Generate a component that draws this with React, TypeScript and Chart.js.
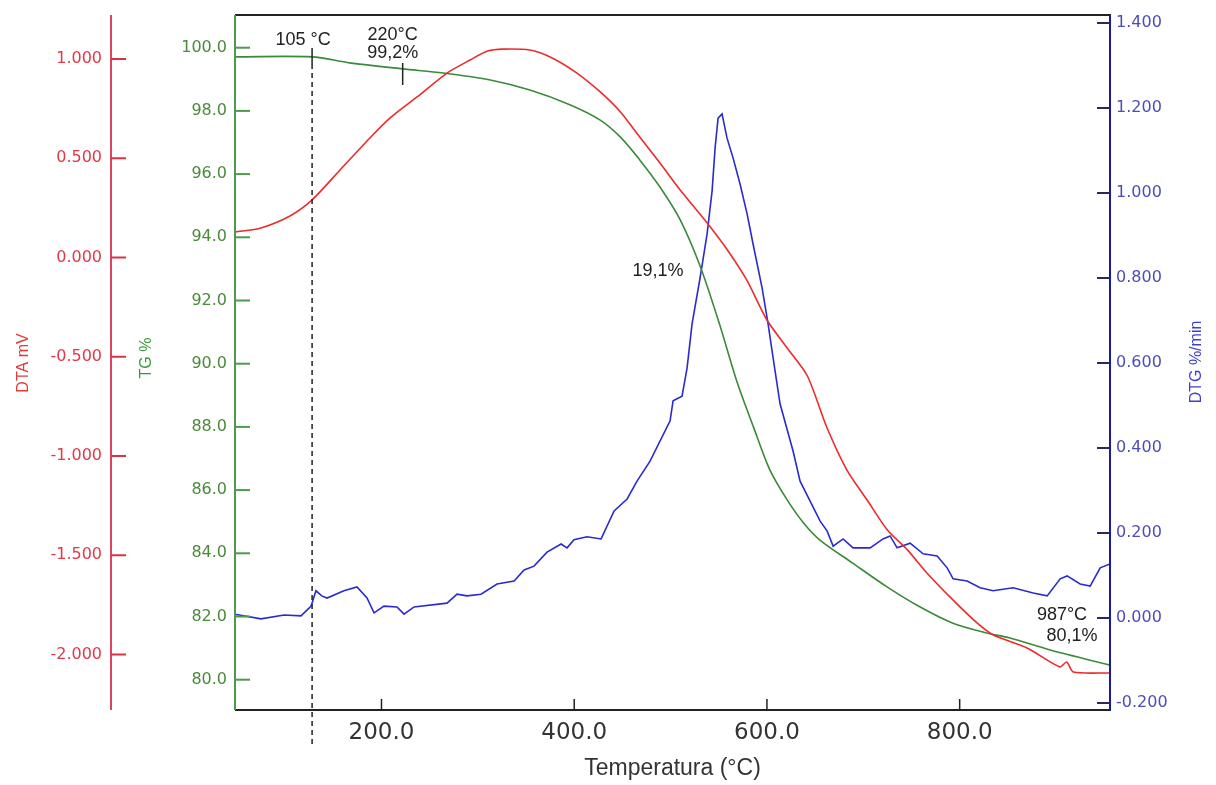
import React, { useEffect, useRef } from "react";
import { Chart, registerables } from "chart.js";

Chart.register(...registerables);

// ---- tick labels ----
const xTicks = [200, 400, 600, 800];
const dtaTicks = [1.0, 0.5, 0.0, -0.5, -1.0, -1.5, -2.0];
const tgTicks = [100, 98, 96, 94, 92, 90, 88, 86, 84, 82, 80];
const dtgTicks = [1.4, 1.2, 1.0, 0.8, 0.6, 0.4, 0.2, 0.0, -0.2];

// ---- TG (%) ----
const tgTemp = [48, 128, 167, 222, 264, 313, 354, 396, 427, 448, 468, 489, 510, 531, 551, 569, 586, 603, 621, 638, 655, 689, 725, 759, 793, 828, 852, 894, 956];
const tgValues = [99.71, 99.71, 99.52, 99.33, 99.2, 98.98, 98.66, 98.19, 97.71, 97.17, 96.45, 95.59, 94.55, 93.06, 91.23, 89.42, 88.0, 86.64, 85.69, 84.96, 84.42, 83.69, 82.93, 82.3, 81.79, 81.48, 81.32, 80.94, 80.46];

// ---- DTA (mV) ----
const dtaTemp = [48, 75, 105, 128, 157, 188, 209, 237, 268, 292, 310, 326, 354, 375, 401, 427, 448, 468, 489, 510, 538, 559, 579, 600, 621, 642, 662, 683, 704, 725, 746, 766, 793, 818, 835, 870, 904, 911, 918, 956];
const dtaValues = [0.128, 0.149, 0.209, 0.29, 0.441, 0.602, 0.703, 0.809, 0.929, 0.995, 1.04, 1.05, 1.045, 1.01, 0.935, 0.834, 0.733, 0.607, 0.476, 0.34, 0.174, 0.038, -0.113, -0.315, -0.456, -0.597, -0.854, -1.071, -1.222, -1.373, -1.474, -1.589, -1.725, -1.841, -1.902, -1.967, -2.063, -2.038, -2.088, -2.093];

// ---- DTG (%/min) ----
const dtgTemp = [48, 75, 99, 116.5, 127, 132, 138, 143.5, 161, 174.6, 185, 192.3, 202.6, 216.1, 223.4, 233.8, 268, 278.4, 288.8, 303.3, 319.9, 337.6, 348, 358.3, 371.8, 386.4, 392.6, 399.8, 413.3, 427.9, 441.4, 454.9, 465.2, 478.7, 499.5, 502.6, 511.9, 517.1, 522.3, 530.6, 537.9, 543.1, 546.2, 549.3, 553.4, 558.6, 564.9, 572.1, 579.4, 585.6, 595, 601.2, 606.4, 613.6, 627.1, 634.4, 644.8, 655.2, 662.4, 668.7, 679, 689.4, 707.1, 720.5, 727.8, 735.1, 748.6, 762.1, 776.6, 787, 793.2, 807.7, 821.2, 834.7, 855.5, 876.3, 890.8, 904.3, 911.5, 925, 935.4, 945.8, 956];
const dtgValues = [0.009, -0.002, 0.007, 0.005, 0.028, 0.064, 0.052, 0.047, 0.064, 0.073, 0.047, 0.012, 0.028, 0.026, 0.009, 0.026, 0.035, 0.056, 0.052, 0.056, 0.08, 0.087, 0.113, 0.122, 0.155, 0.174, 0.165, 0.184, 0.191, 0.186, 0.252, 0.28, 0.322, 0.369, 0.464, 0.511, 0.522, 0.588, 0.692, 0.8, 0.904, 1.005, 1.106, 1.176, 1.186, 1.129, 1.082, 1.021, 0.951, 0.88, 0.776, 0.692, 0.612, 0.504, 0.393, 0.322, 0.275, 0.228, 0.205, 0.169, 0.186, 0.165, 0.165, 0.186, 0.193, 0.165, 0.176, 0.151, 0.146, 0.118, 0.092, 0.087, 0.071, 0.064, 0.071, 0.059, 0.052, 0.092, 0.099, 0.08, 0.075, 0.118, 0.127];

// ---- annotation marks ----
const dashTemp = 128;
const markTemp = 222;

const RED = "#ee2a2a";
const GREEN = "#3a8a3a";
const BLUE = "#2a2ad2";

const decor = {
  id: "decor",
  afterDraw(chart: any) {
    const { ctx, chartArea: a, scales } = chart;
    const x = scales.x, dta = scales.dta, tg = scales.tg, dtg = scales.dtg;
    const line = (x1: number, y1: number, x2: number, y2: number, c: string, w: number) => {
      ctx.strokeStyle = c;
      ctx.lineWidth = w;
      ctx.beginPath();
      ctx.moveTo(x1, y1);
      ctx.lineTo(x2, y2);
      ctx.stroke();
    };
    ctx.save();
    // frame
    line(a.left, a.top, a.right + 1, a.top, "#222", 2);
    line(a.left, a.bottom, a.right + 1, a.bottom, "#222", 2);
    line(a.left, a.top, a.left, a.bottom, "#4c9a4c", 2);
    line(dta.right, a.top, dta.right, a.bottom, "#dc4460", 2);
    line(a.right, a.top, a.right, a.bottom + 1, "#1a1a9a", 2);
    // tick marks
    dtaTicks.forEach((v) => { const p = dta.getPixelForValue(v); line(dta.right, p, dta.right + 15, p, "#e03040", 2); });
    tgTicks.forEach((v) => { const p = tg.getPixelForValue(v); line(a.left, p, a.left + 15, p, "#4c9a4c", 2); });
    dtgTicks.forEach((v) => { const p = dtg.getPixelForValue(v); line(a.right - 13, p, a.right, p, "#2a2a5a", 2); });
    xTicks.forEach((v) => { const p = x.getPixelForValue(v); line(p, a.bottom, p, a.bottom - 11, "#222", 1.5); });

    // dashed marker line
    const dx = x.getPixelForValue(dashTemp);
    line(dx, a.top + 33, dx, a.top + 49, "#222", 1.5);
    ctx.setLineDash([5, 4]);
    line(dx, a.top + 49, dx, a.bottom + 35, "#222", 1.5);
    ctx.setLineDash([]);
    const mx = x.getPixelForValue(markTemp);
    line(mx, a.top + 48, mx, a.top + 70, "#222", 1.5);

    // annotations
    ctx.fillStyle = "#222";
    ctx.font = "18px 'Liberation Sans', Arial, sans-serif";
    ctx.textAlign = "center";
    ctx.textBaseline = "middle";
    ctx.fillText("105 °C", dx - 9, 40);
    ctx.fillText("220°C", mx - 10, 35);
    ctx.fillText("99,2%", mx - 10, 53);
    ctx.fillText("19,1%", 658, 271);
    ctx.fillText("987°C", 1062, 615);
    ctx.fillText("80,1%", 1072, 636);

    // axis titles
    ctx.font = "23px 'Liberation Sans', Arial, sans-serif";
    ctx.fillStyle = "#333";
    ctx.fillText("Temperatura (°C)", (a.left + a.right) / 2, 769);

    ctx.font = "16px 'Liberation Sans', Arial, sans-serif";
    const vt = (t: string, cx: number, cy: number, c: string) => {
      ctx.save();
      ctx.translate(cx, cy);
      ctx.rotate(-Math.PI / 2);
      ctx.fillStyle = c;
      ctx.fillText(t, 0, 0);
      ctx.restore();
    };
    vt("DTA mV", 24, 363, "#e03a3a");
    vt("TG %", 147, 358, "#3a9a3a");
    vt("DTG %/min", 1197, 362, "#4040d0");
    ctx.restore();
  },
};

const fitY = (w: number) => (s: any) => {
  s.width = w;
  s.paddingTop = 0;
  s.paddingBottom = 0;
};

export default function App() {
  const ref = useRef<HTMLCanvasElement>(null);
  useEffect(() => {
    if (!ref.current) return;
    const pts = (xs: number[], ys: number[]) => xs.map((t, i) => ({ x: t, y: ys[i] }));
    const tickFont = { family: "'DejaVu Sans', sans-serif", size: 16 };
    const chart = new Chart(ref.current, {
      type: "line",
      data: {
        datasets: [
          { label: "DTA", data: pts(dtaTemp, dtaValues), xAxisID: "x", yAxisID: "dta", borderColor: RED, borderWidth: 1.6, pointRadius: 0, tension: 0.25, fill: false },
          { label: "TG", data: pts(tgTemp, tgValues), xAxisID: "x", yAxisID: "tg", borderColor: GREEN, borderWidth: 1.6, pointRadius: 0, tension: 0.3, fill: false },
          { label: "DTG", data: pts(dtgTemp, dtgValues), xAxisID: "x", yAxisID: "dtg", borderColor: BLUE, borderWidth: 1.6, pointRadius: 0, tension: 0, fill: false },
        ],
      },
      options: {
        responsive: false,
        animation: false,
        layout: { padding: { top: 15, left: 0, right: 0, bottom: 0 } },
        plugins: { legend: { display: false }, tooltip: { enabled: false } },
        scales: {
          x: {
            type: "linear", position: "bottom", min: 48, max: 956,
            afterFit: (s: any) => { s.height = 75; s.paddingLeft = 0; s.paddingRight = 0; },
            afterBuildTicks: (s: any) => { s.ticks = xTicks.map((v) => ({ value: v })); },
            grid: { display: false, drawTicks: false }, border: { display: false },
            ticks: { padding: 9, color: "#333", font: { family: "'DejaVu Sans', sans-serif", size: 23 }, maxRotation: 0, autoSkip: false, callback: (v: any) => Number(v).toFixed(1) },
          },
          dta: {
            type: "linear", position: "left", weight: 2, min: -2.2796, max: 1.2217,
            afterFit: fitY(111),
            afterBuildTicks: (s: any) => { s.ticks = dtaTicks.map((v) => ({ value: v })); },
            grid: { display: false, drawTicks: false }, border: { display: false },
            ticks: { padding: 9, color: "#e2384a", font: tickFont, callback: (v: any) => Number(v).toFixed(3) },
          },
          tg: {
            type: "linear", position: "left", weight: 1, min: 79.041, max: 101.035,
            afterFit: fitY(124),
            afterBuildTicks: (s: any) => { s.ticks = tgTicks.map((v) => ({ value: v })); },
            grid: { display: false, drawTicks: false }, border: { display: false },
            ticks: { padding: 8, color: "#4a8a3a", font: tickFont, callback: (v: any) => Number(v).toFixed(1) },
          },
          dtg: {
            type: "linear", position: "right", weight: 1, min: -0.2165, max: 1.4188,
            afterFit: fitY(106),
            afterBuildTicks: (s: any) => { s.ticks = dtgTicks.map((v) => ({ value: v })); },
            grid: { display: false, drawTicks: false }, border: { display: false },
            ticks: { padding: 6, color: "#4d4db8", font: tickFont, callback: (v: any) => Number(v).toFixed(3) },
          },
        },
      },
      plugins: [decor],
    } as any);
    return () => chart.destroy();
  }, []);
  return (
    <div style={{ position: "fixed", left: 0, top: 0, width: 1216, height: 785, background: "#fff" }}>
      <canvas ref={ref} width={1216} height={785} style={{ display: "block" }} />
    </div>
  );
}
